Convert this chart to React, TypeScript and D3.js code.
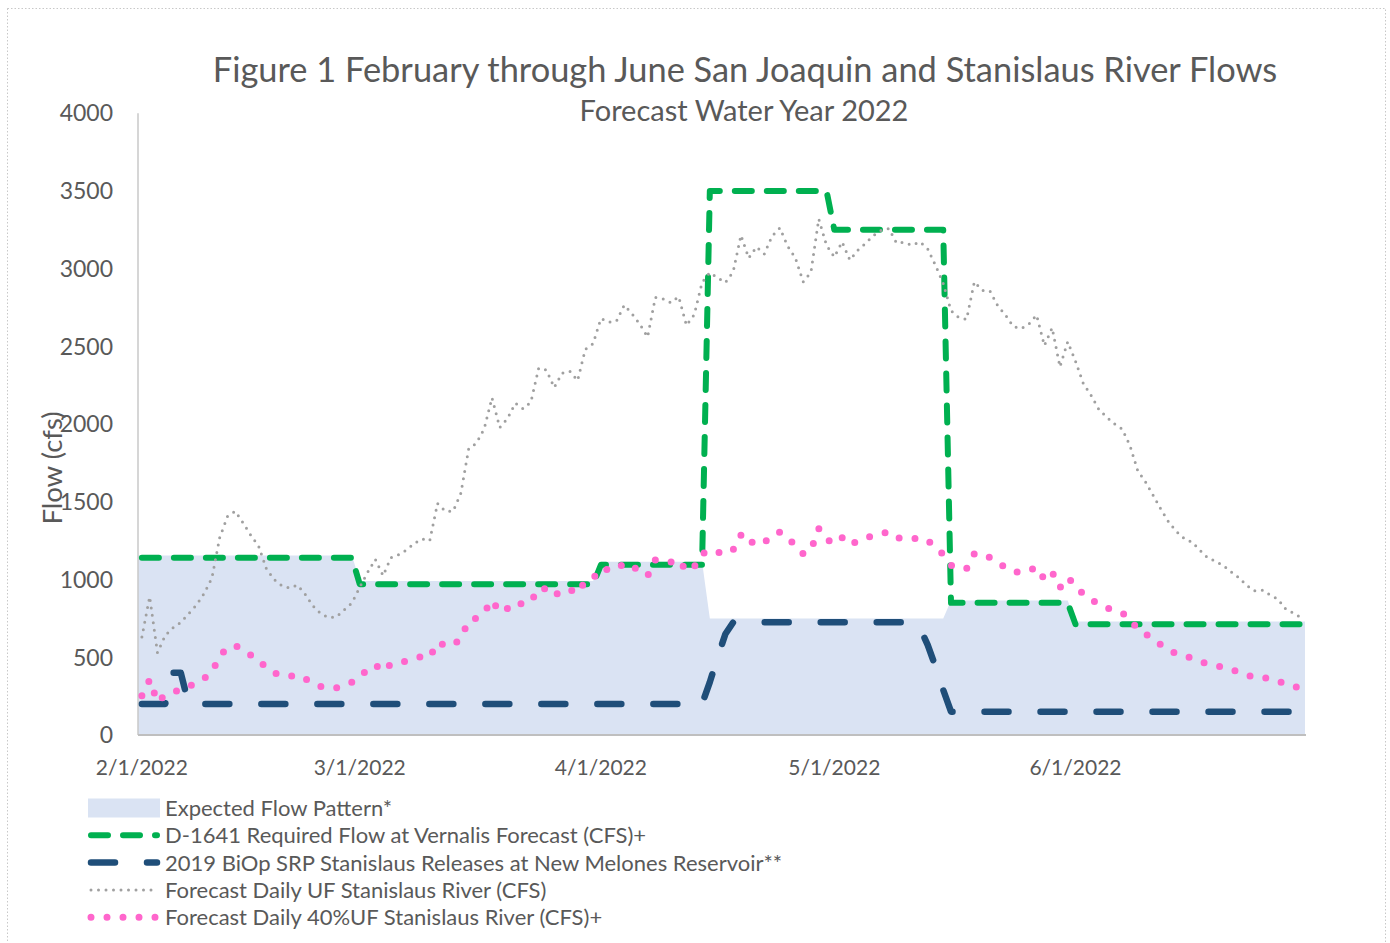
import React, { useEffect, useRef } from "react";
import * as d3 from "d3";

const W = 1390;
const H = 943;

// one category per day, 2/1/2022 .. 6/30/2022
const days = d3.utcDay.range(new Date(Date.UTC(2022, 1, 1)), new Date(Date.UTC(2022, 6, 1)));

const xTickLabels = ["2/1/2022", "3/1/2022", "4/1/2022", "5/1/2022", "6/1/2022"];
const yTicks = [0, 500, 1000, 1500, 2000, 2500, 3000, 3500, 4000];

// step series: [first day, value]
const expectedSteps: [string, number][] = [
  ["2022-02-01", 1155],
  ["2022-03-01", 990],
  ["2022-04-01", 1115],
  ["2022-04-15", 750],
  ["2022-05-16", 865],
  ["2022-06-01", 730],
];
const d1641Steps: [string, number][] = [
  ["2022-02-01", 1140],
  ["2022-03-01", 970],
  ["2022-04-01", 1095],
  ["2022-04-15", 3500],
  ["2022-05-01", 3250],
  ["2022-05-16", 850],
  ["2022-06-01", 712],
];
const biopSteps: [string, number][] = [
  ["2022-02-01", 200],
  ["2022-02-05", 400],
  ["2022-02-07", 200],
  ["2022-04-15", 340],
  ["2022-04-16", 500],
  ["2022-04-17", 650],
  ["2022-04-18", 725],
  ["2022-05-12", 690],
  ["2022-05-13", 580],
  ["2022-05-14", 440],
  ["2022-05-15", 290],
  ["2022-05-16", 150],
];

// daily forecast, unimpaired flow
const ufDaily = [
  630, 890, 530, 640, 690, 725, 780, 835, 910, 1010, 1270, 1405, 1440, 1365, 1285, 1215, 1070, 1000, 960, 945,
  965, 905, 830, 780, 755, 760, 805, 850,
  950, 1045, 1130, 1025, 1140, 1160, 1190, 1232, 1262, 1250, 1490, 1440, 1440, 1555, 1840, 1878, 1970, 2170,
  1978, 2036, 2135, 2099, 2142, 2360, 2348, 2235, 2327, 2340, 2280, 2481, 2518,
  2680, 2655, 2663, 2766, 2710, 2643, 2560, 2815, 2805, 2780, 2820, 2635, 2705, 2910, 2975, 2942, 2910, 2980,
  3215, 3068, 3140, 3094, 3210, 3262, 3145, 3068, 2915, 2978, 3320, 3150,
  3075, 3172, 3055, 3118, 3162, 3212, 3245, 3258, 3165, 3169, 3150, 3172, 3128, 3022, 2905, 2730, 2686, 2674,
  2915, 2860, 2857, 2762, 2702, 2628, 2614, 2643, 2702, 2505, 2620, 2368, 2530,
  2405, 2262, 2185, 2095, 2045, 2002, 1968, 1862, 1700, 1628, 1540, 1450, 1368, 1308, 1264, 1240, 1188, 1140,
  1118, 1090, 1050, 1012, 962, 927, 932, 901, 875, 812, 785, 755,
];

// daily forecast, 40% of unimpaired flow
const uf40Daily = [
  252, 356, 212, 256, 276, 290, 312, 334, 364, 404, 508, 562, 576, 546, 514, 486, 428, 400, 384, 378,
  386, 362, 332, 312, 302, 304, 322, 340,
  380, 418, 452, 410, 456, 464, 476, 493, 505, 500, 596, 576, 576, 622, 736, 751, 788, 868,
  791, 814, 854, 840, 857, 944, 939, 894, 931, 936, 912, 992, 1007,
  1072, 1062, 1065, 1106, 1084, 1057, 1024, 1126, 1122, 1112, 1128, 1054, 1082, 1164, 1190, 1177, 1164, 1192,
  1286, 1227, 1256, 1238, 1284, 1305, 1258, 1227, 1166, 1191, 1328, 1260,
  1230, 1269, 1222, 1247, 1265, 1285, 1298, 1303, 1266, 1268, 1260, 1269, 1251, 1209, 1162, 1092, 1074, 1070,
  1166, 1144, 1143, 1105, 1081, 1051, 1046, 1057, 1081, 1002, 1048, 947, 1012,
  962, 905, 874, 838, 818, 801, 787, 745, 680, 651, 616, 580, 547, 523, 506, 496, 475, 456,
  447, 436, 420, 405, 385, 371, 373, 360, 350, 325, 314, 302,
];

const legendLabels = [
  "Expected Flow Pattern*",
  "D-1641 Required Flow at Vernalis Forecast (CFS)+",
  "2019 BiOp SRP Stanislaus Releases at New Melones Reservoir**",
  "Forecast Daily UF Stanislaus River (CFS)",
  "Forecast Daily 40%UF Stanislaus River (CFS)+",
];

const FONT = "Lato, 'Open Sans', sans-serif";
const TEXT = "#595959";
const C_AREA = "#dae3f3";
const C_GREEN = "#00b050";
const C_BLUE = "#1f4e79";
const C_GREY = "#a0a0a0";
const C_PINK = "#ff66cc";

const parseDay = d3.utcParse("%Y-%m-%d");
const parseTick = d3.utcParse("%m/%d/%Y");

function expand(steps: [string, number][]) {
  const s = steps.map(([d, v]) => ({ date: parseDay(d) as Date, value: v }));
  return days.map((date) => {
    let v = s[0].value;
    for (const st of s) if (st.date <= date) v = st.value;
    return { date, value: v };
  });
}

export default function App() {
  const ref = useRef<SVGSVGElement>(null);

  useEffect(() => {
    const svg = d3.select(ref.current);
    svg.selectAll("*").remove();

    const x = d3
      .scaleUtc()
      .domain([new Date(Date.UTC(2022, 0, 31, 12)), new Date(Date.UTC(2022, 5, 30, 12))])
      .range([138, 1305]);
    const y = d3.scaleLinear().domain([0, 4000]).range([735, 113.2]);

    // chart frame
    svg.append("rect")
      .attr("x", 7.5).attr("y", 8.5).attr("width", 1378).attr("height", 980)
      .attr("fill", "white").attr("stroke", "#c8c8c8").attr("stroke-dasharray", "1.5 2");

    // titles
    svg.append("text")
      .attr("x", 745).attr("y", 82).attr("text-anchor", "middle")
      .style("font-family", FONT).style("font-size", "34.4px").attr("fill", TEXT)
      .text("Figure 1 February through June San Joaquin and Stanislaus River Flows");
    svg.append("text")
      .attr("x", 744).attr("y", 121).attr("text-anchor", "middle")
      .style("font-family", FONT).style("font-size", "29px").attr("fill", TEXT)
      .text("Forecast Water Year 2022");

    // area
    const expected = expand(expectedSteps);
    const [d0, d1] = x.domain();
    const areaPts = [
      { date: d0, value: expected[0].value },
      ...expected,
      { date: d1, value: expected[expected.length - 1].value },
    ];
    svg.append("path")
      .datum(areaPts)
      .attr("fill", C_AREA)
      .attr("d", d3.area<{ date: Date; value: number }>()
        .x((d) => x(d.date)).y0(y(0)).y1((d) => y(d.value)));

    // axes
    svg.append("line")
      .attr("x1", 138).attr("x2", 138).attr("y1", y(4000)).attr("y2", y(0))
      .attr("stroke", "#c8c8c8").attr("stroke-width", 1.5);
    svg.append("line")
      .attr("x1", 138).attr("x2", 1306).attr("y1", y(0)).attr("y2", y(0))
      .attr("stroke", "#bfbfbf").attr("stroke-width", 2);

    svg.append("g").selectAll("text").data(yTicks).enter().append("text")
      .attr("x", 113).attr("y", (d) => y(d)).attr("dy", "0.36em").attr("text-anchor", "end")
      .style("font-family", FONT).style("font-size", "23px").attr("fill", TEXT)
      .text((d) => String(d));

    svg.append("g").selectAll("text").data(xTickLabels).enter().append("text")
      .attr("x", (d) => x(parseTick(d) as Date)).attr("y", 775).attr("text-anchor", "middle")
      .style("font-family", FONT).style("font-size", "21px").attr("fill", TEXT)
      .text((d) => d);

    svg.append("text")
      .attr("transform", "translate(62,468) rotate(-90)").attr("text-anchor", "middle")
      .style("font-family", FONT).style("font-size", "27.5px").attr("fill", TEXT)
      .text("Flow (cfs)");

    const line = d3.line<{ date: Date; value: number }>()
      .x((d) => x(d.date)).y((d) => y(d.value));

    const series = [
      { data: expand(d1641Steps), color: C_GREEN, width: 6, dash: "17 15" },
      { data: expand(biopSteps), color: C_BLUE, width: 6.5, dash: "24 32" },
      { data: days.map((date, i) => ({ date, value: ufDaily[i] })), color: C_GREY, width: 3, dash: "0 7.5" },
      { data: days.map((date, i) => ({ date, value: uf40Daily[i] })), color: C_PINK, width: 7, dash: "0 16" },
    ];

    series.forEach((s) => {
      svg.append("path")
        .datum(s.data)
        .attr("fill", "none")
        .attr("stroke", s.color)
        .attr("stroke-width", s.width)
        .attr("stroke-dasharray", s.dash)
        .attr("stroke-linecap", "round")
        .attr("stroke-linejoin", "round")
        .attr("d", line);
    });

    // legend
    const lg = svg.append("g");
    const rowY = (i: number) => 808 + i * 27.3;
    lg.append("rect")
      .attr("x", 88).attr("y", rowY(0) - 9.5).attr("width", 72).attr("height", 19).attr("fill", C_AREA);
    series.forEach((s, i) => {
      lg.append("line")
        .attr("x1", 91).attr("x2", 157).attr("y1", rowY(i + 1)).attr("y2", rowY(i + 1))
        .attr("stroke", s.color).attr("stroke-width", s.width)
        .attr("stroke-dasharray", s.dash).attr("stroke-linecap", "round");
    });
    lg.selectAll("text").data(legendLabels).enter().append("text")
      .attr("x", 165).attr("y", (_, i) => rowY(i)).attr("dy", "0.36em")
      .style("font-family", FONT).style("font-size", "22px").attr("fill", TEXT)
      .text((d) => d);
  }, []);

  return (
    <div style={{ position: "absolute", left: 0, top: 0 }}>
      <svg ref={ref} width={W} height={H} />
    </div>
  );
}
